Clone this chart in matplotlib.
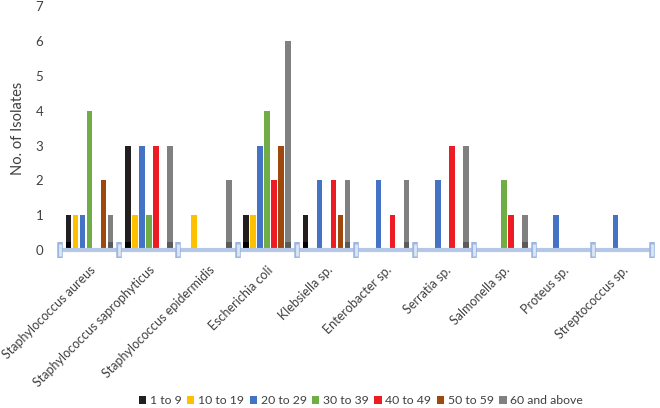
import matplotlib
matplotlib.use("Agg")
import matplotlib.pyplot as plt
import numpy as np

plt.rcParams['font.family'] = ['Lato', 'DejaVu Sans']

categories = ["Staphylococcus aureus", "Staphylococcus saprophyticus",
              "Staphylococcus epidermidis", "Escherichia coli", "Klebsiella sp.",
              "Enterobacter sp.", "Serratia sp.", "Salmonella sp.", "Proteus sp.",
              "Streptococcus sp."]
series_names = ["1 to 9", "10 to 19", "20 to 29", "30 to 39", "40 to 49",
                "50 to 59", "60 and above"]
age_1_9 = [1, 3, 0, 1, 1, 0, 0, 0, 0, 0]
age_10_19 = [1, 1, 1, 1, 0, 0, 0, 0, 0, 0]
age_20_29 = [1, 3, 0, 3, 2, 2, 2, 0, 1, 1]
age_30_39 = [4, 1, 0, 4, 0, 0, 0, 2, 0, 0]
age_40_49 = [0, 3, 0, 2, 2, 1, 3, 1, 0, 0]
age_50_59 = [2, 0, 0, 3, 1, 0, 0, 0, 0, 0]
age_60_up = [1, 3, 2, 6, 2, 2, 3, 1, 0, 0]
series = [age_1_9, age_10_19, age_20_29, age_30_39, age_40_49, age_50_59, age_60_up]
colors = ["#231f20", "#ffc000", "#4472c4", "#70ad47", "#ed1c24", "#9e480e", "#808080"]
base_dark = {0: "#000000", 6: "#5a5a5a"}
text_color = '#404040'

fig = plt.figure(figsize=(6.6, 4.08), dpi=100)
ax = fig.add_axes([60/660, 1-250/408, 592/660, (250-6.4)/408])

x = np.arange(len(categories))
step = 0.118
width = 0.093
for i, (vals, c) in enumerate(zip(series, colors)):
    pos = x + (i - 3) * step
    vals = np.array(vals, dtype=float)
    ax.bar(pos, vals, width=width, color=c, label=series_names[i], zorder=2)
    if i in base_dark:
        ax.bar(pos, np.minimum(vals, 0.23), width=width, color=base_dark[i], zorder=2.1)

ax.set_xlim(-0.5, len(categories) - 0.5)
ax.set_ylim(0, 7)
ax.set_yticks(range(0, 8))
ax.tick_params(axis='y', length=0, pad=12, labelsize=9.5, labelcolor=text_color)
ax.set_xticks(x)
ax.set_xticklabels(categories, rotation=45, ha='right', rotation_mode='anchor',
                   fontsize=9, color=text_color)
ax.tick_params(axis='x', length=0, pad=10)
for s in ax.spines.values():
    s.set_visible(False)

# axis line with capsule markers
ax.plot([-0.5, len(categories) - 0.5], [0, 0], color='#b4c7e7', lw=3,
        zorder=3, clip_on=False, solid_capstyle='butt')
bounds = np.arange(-0.5, len(categories), 1.0)
ax.plot(bounds, np.zeros_like(bounds), ls='none', marker='|', markersize=11,
        markeredgewidth=4, color='#9db7e0', zorder=4, clip_on=False)
ax.plot(bounds, np.zeros_like(bounds), ls='none', marker='|', markersize=8.5,
        markeredgewidth=2, color='#dce6f5', zorder=5, clip_on=False)

fig.text(18/660, 1-128/408, "No. of Isolates", rotation=90, ha='center', va='center',
         fontsize=10.5, color=text_color)

leg = fig.legend(loc='center', bbox_to_anchor=(361/660, 1-401/408), ncol=7,
                 frameon=False, fontsize=8.8, handlelength=0.6, handleheight=0.6,
                 handletextpad=0.3, columnspacing=0.45, labelcolor=text_color)

fig.savefig("out.png", dpi=100)
